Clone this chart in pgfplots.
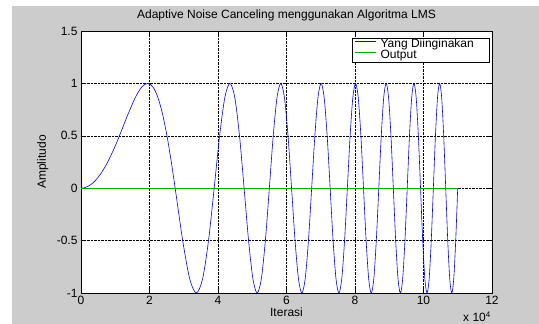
\documentclass[border=0pt]{standalone}
\usepackage{fontspec}
\setmainfont{Liberation Sans}
\usepackage{pgfplots}
\pgfplotsset{compat=1.18}
\definecolor{mgreen}{RGB}{0,170,0}
\definecolor{figgray}{RGB}{204,204,204}
\begin{document}
\begin{tikzpicture}[font=\fontsize{12}{14}\selectfont]
\path[use as bounding box] (0,0) rectangle (539pt,324pt);
\fill[figgray] (12pt,0pt) rectangle (81pt,318pt);
\fill[figgray] (492pt,0pt) rectangle (539pt,318pt);
\fill[figgray] (80pt,0pt) rectangle (493pt,31pt);
\fill[figgray] (80pt,293pt) rectangle (493pt,318pt);
\begin{axis}[
 at={(81pt,31pt)}, anchor=south west,
 scale only axis, width=411pt, height=262pt,
 xmin=0, xmax=12, ymin=-1, ymax=1.5,
 xtick={0,2,4,6,8,10,12}, ytick={-1,-0.5,0,0.5,1,1.5},
 grid=major, major grid style={black, densely dotted, line width=0.4pt},
 axis background/.style={fill=white},
 tick align=inside, major tick length=4pt, tick style={black},
 axis line style={black, line width=0.5pt},
 /pgf/number format/assume math mode=true,
 ticklabel style={font=\fontsize{12}{14}\selectfont},
 title={Adaptive Noise Canceling menggunakan Algoritma LMS},
 title style={at={(0.5,1)}, anchor=base, yshift=6pt, inner sep=0pt},
 xlabel={Iterasi},
 xlabel style={at={(axis description cs:0.5,0)}, anchor=base, yshift=-24pt, inner sep=0pt},
 ylabel={Amplitudo},
 ylabel style={at={(axis description cs:-0.0852,0.5)}, anchor=base, inner sep=0pt},
 legend style={at={(rel axis cs:1,1)}, anchor=north east, xshift=-3pt, yshift=-7pt,
   draw=black, fill=white, inner xsep=3pt, inner ysep=1pt, row sep=0pt,
   nodes={inner ysep=0pt, inner xsep=4pt, text height=8.5pt, text depth=2.5pt},
   font=\fontsize{12}{14}\selectfont},
 legend cell align=left,
 legend image code/.code={\draw[#1] (0pt,3.5pt) -- (21pt,3.5pt);},
]
\addplot[blue, line width=0.6pt, smooth] coordinates {
(0,0) (0.1,0.0042) (0.2,0.0166) (0.3,0.0374) (0.4,0.0665) (0.5,0.1037)
(0.5612,0.1305) (0.68,0.191) (0.7937,0.2588) (0.9721,0.3827) (1.1225,0.5) (1.3748,0.7071)
(1.5875,0.866) (1.7748,0.9659) (1.9442,1) (2.1,0.9659) (2.245,0.866) (2.3812,0.7071)
(2.51,0.5) (2.6325,0.2588) (2.7495,0) (2.9698,-0.5) (3.1749,-0.866) (3.3675,-1)
(3.5496,-0.866) (3.7229,-0.5) (3.8884,0) (4.0472,0.5) (4.2,0.866) (4.3474,1)
(4.49,0.866) (4.6282,0.5) (4.7624,0) (4.8929,-0.5) (5.02,-0.866) (5.1439,-1)
(5.265,-0.866) (5.3833,-0.5) (5.4991,0) (5.6125,0.5) (5.7236,0.866) (5.8327,1)
(5.9397,0.866) (6.0448,0.5) (6.1482,0) (6.2498,-0.5) (6.3498,-0.866) (6.4483,-1)
(6.5452,-0.866) (6.6408,-0.5) (6.735,0) (6.8279,0.5) (6.9195,0.866) (7.01,1)
(7.0993,0.866) (7.1875,0.5) (7.2746,0) (7.3607,-0.5) (7.4458,-0.866) (7.5299,-1)
(7.6131,-0.866) (7.6955,-0.5) (7.7769,0) (7.8575,0.5) (7.9373,0.866) (8.0162,1)
(8.0944,0.866) (8.1719,0.5) (8.2486,0) (8.3247,-0.5) (8.4,-0.866) (8.4747,-1)
(8.5487,-0.866) (8.6221,-0.5) (8.6948,0) (8.767,0.5) (8.8385,0.866) (8.9095,1)
(8.98,0.866) (9.0499,0.5) (9.1192,0) (9.188,-0.5) (9.2563,-0.866) (9.3241,-1)
(9.3915,-0.866) (9.4583,-0.5) (9.5247,0) (9.5906,0.5) (9.6561,0.866) (9.7211,1)
(9.7857,0.866) (9.8499,0.5) (9.9136,0) (9.977,-0.5) (10.0399,-0.866) (10.1025,-1)
(10.1647,-0.866) (10.2264,-0.5) (10.2879,0) (10.3489,0.5) (10.4096,0.866) (10.47,1)
(10.53,0.866) (10.5896,0.5) (10.6489,0) (10.7079,-0.5) (10.7666,-0.866) (10.825,-1)
(10.883,-0.866) (10.9407,-0.5) (10.9982,0)
};
\addlegendentry{Yang Diinginakan\hspace*{8pt}}
\addplot[mgreen, line width=0.6pt] coordinates {(0,0) (11.0,0)};
\addlegendentry{Output}
\end{axis}
\node[anchor=base west, inner sep=0pt] at (463pt,2pt) {x 10\textsuperscript{4}};
\end{tikzpicture}
\end{document}
